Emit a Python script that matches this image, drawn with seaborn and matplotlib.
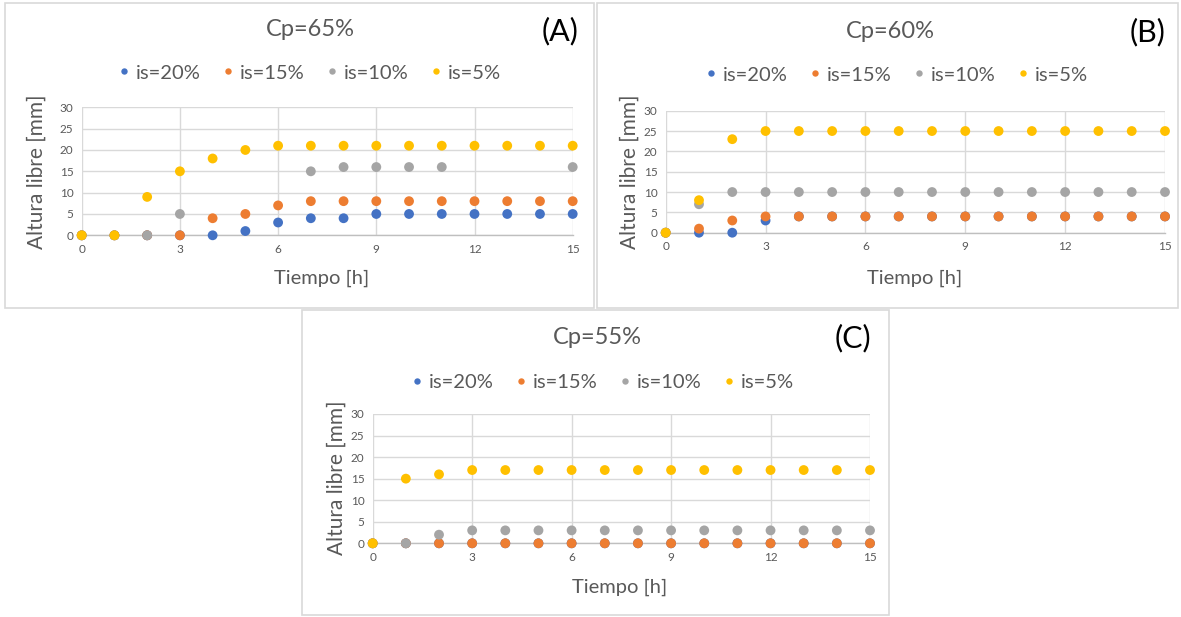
import numpy as np
import pandas as pd
import matplotlib
matplotlib.use("Agg")
import matplotlib.pyplot as plt
import seaborn as sns
from matplotlib.patches import Rectangle

# ---------------- data ----------------
tiempo = list(range(16))
series = ["is=20%", "is=15%", "is=10%", "is=5%"]
colors = ["#4472C4", "#ED7D31", "#A5A5A5", "#FFC000"]
nan = np.nan

# Cp = 65 %
a_is20 = [0, 0, 0, 0, 0, 1, 3, 4, 4, 5, 5, 5, 5, 5, 5, 5]
a_is15 = [0, 0, 0, 0, 4, 5, 7, 8, 8, 8, 8, 8, 8, 8, 8, 8]
a_is10 = [0, 0, 0, 5, nan, nan, nan, 15, 16, 16, 16, 16, nan, nan, nan, 16]
a_is5 = [0, 0, 9, 15, 18, 20, 21, 21, 21, 21, 21, 21, 21, 21, 21, 21]

# Cp = 60 %
b_is20 = [0, 0, 0, 3, 4, 4, 4, 4, 4, 4, 4, 4, 4, 4, 4, 4]
b_is15 = [0, 1, 3, 4, 4, 4, 4, 4, 4, 4, 4, 4, 4, 4, 4, 4]
b_is10 = [0, 7, 10, 10, 10, 10, 10, 10, 10, 10, 10, 10, 10, 10, 10, 10]
b_is5 = [0, 8, 23, 25, 25, 25, 25, 25, 25, 25, 25, 25, 25, 25, 25, 25]

# Cp = 55 %
c_is20 = [0, 0, 0, 0, 0, 0, 0, 0, 0, 0, 0, 0, 0, 0, 0, 0]
c_is15 = [0, 0, 0, 0, 0, 0, 0, 0, 0, 0, 0, 0, 0, 0, 0, 0]
c_is10 = [0, 0, 2, 3, 3, 3, 3, 3, 3, 3, 3, 3, 3, 3, 3, 3]
c_is5 = [0, 15, 16, 17, 17, 17, 17, 17, 17, 17, 17, 17, 17, 17, 17, 17]

titles = ["Cp=65%", "Cp=60%", "Cp=55%"]
letters = ["(A)", "(B)", "(C)"]
xticks = [0, 3, 6, 9, 12, 15]
yticks = [0, 5, 10, 15, 20, 25, 30]
xlabel = "Tiempo [h]"
ylabel = "Altura libre [mm]"

panel_data = [
    [a_is20, a_is15, a_is10, a_is5],
    [b_is20, b_is15, b_is10, b_is5],
    [c_is20, c_is15, c_is10, c_is5],
]

# ---------------- layout (pixel based) ----------------
W, H = 1181, 617
sns.set_theme(style="white")
plt.rcParams["font.family"] = ["Lato", "DejaVu Sans"]

fig = plt.figure(figsize=(W / 100, H / 100), dpi=100)
fig.patch.set_facecolor("white")

def fx(px):
    return px / W

def fy(py):
    return 1 - py / H

# panel boxes (left, top, right, bottom) in px
boxes = [(5, 3, 594, 308), (597, 3, 1178, 308), (302, 310, 889, 615)]
# plot areas (left, top, right, bottom) in px
areas = [(81.7, 107.3, 572.7, 235.3), (665.7, 110.7, 1165, 232.7), (372.7, 414, 870, 543.3)]
title_pos = [(310, 30), (890, 31), (597, 338)]
letter_pos = [(560, 31), (1148, 32), (853, 338)]
legend_pos = [(307, 73), (894, 75), (600, 382)]
xlabel_pos = [(322, 278), (915, 278), (620, 587)]
ylabel_pos = [(37, 172), (630, 172), (337, 478)]

for (l, t, r, b) in boxes:
    fig.patches.append(Rectangle((fx(l), fy(b)), fx(r - l), (b - t) / H,
                                 transform=fig.transFigure, fill=False,
                                 edgecolor="#D9D9D9", linewidth=1.2, zorder=0))

text_col = "#595959"

for i in range(3):
    l, t, r, b = areas[i]
    ax = fig.add_axes([fx(l), fy(b), fx(r - l), (b - t) / H])
    rows = []
    for s, vals in zip(series, panel_data[i]):
        for x, y in zip(tiempo, vals):
            rows.append({"Tiempo": x, "Altura": y, "Serie": s})
    df = pd.DataFrame(rows).dropna()
    sns.scatterplot(data=df, x="Tiempo", y="Altura", hue="Serie",
                    hue_order=series, palette=colors, s=50,
                    edgecolor="none", linewidth=0, ax=ax, zorder=3,
                    clip_on=False)
    ax.set_xlim(0, 15)
    ax.set_ylim(0, 30)
    ax.set_xticks(xticks)
    ax.set_yticks(yticks)
    ax.grid(True, color="#D9D9D9", linewidth=1.0)
    ax.set_axisbelow(True)
    for sp in ["top", "right", "left"]:
        ax.spines[sp].set_visible(False)
    ax.spines["bottom"].set_color("#BFBFBF")
    ax.spines["bottom"].set_linewidth(1.0)
    ax.tick_params(axis="both", length=0, labelsize=8.5, labelcolor=text_col, pad=6)
    ax.set_xlabel("")
    ax.set_ylabel("")

    handles, labels = ax.get_legend_handles_labels()
    if ax.get_legend() is not None:
        ax.get_legend().remove()
    lx, ly = legend_pos[i]
    ax.legend(handles, labels, ncol=4, loc="center",
              bbox_to_anchor=(fx(lx), fy(ly)), bbox_transform=fig.transFigure,
              frameon=False, markerscale=0.65, handletextpad=0.05,
              columnspacing=0.8, handlelength=1.1, fontsize=14.5,
              labelcolor=text_col)

    tx, ty = title_pos[i]
    fig.text(fx(tx), fy(ty), titles[i], ha="center", va="center",
             fontsize=17, color=text_col)
    lx, ly = letter_pos[i]
    fig.text(fx(lx), fy(ly), letters[i], ha="center", va="center",
             fontsize=22, color="black")
    xx, xy = xlabel_pos[i]
    fig.text(fx(xx), fy(xy), xlabel, ha="center", va="center",
             fontsize=14.5, color=text_col)
    yx, yy = ylabel_pos[i]
    fig.text(fx(yx), fy(yy), ylabel, ha="center", va="center",
             fontsize=15, color=text_col, rotation=90)

fig.savefig("out.png", dpi=100, facecolor="white")
